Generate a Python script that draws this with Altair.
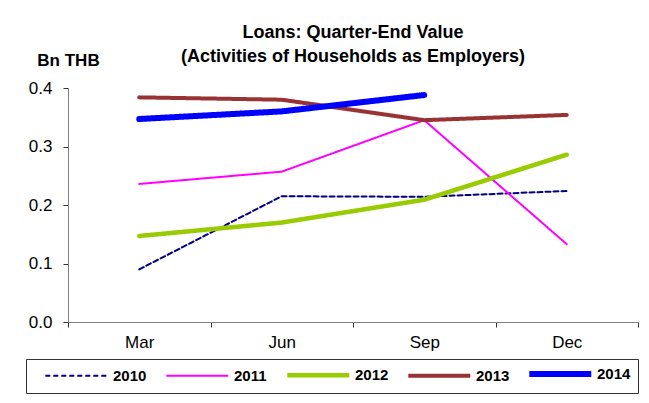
import altair as alt
import pandas as pd

quarters = ["Mar", "Jun", "Sep", "Dec"]
years = ["2010", "2011", "2012", "2013", "2014"]
v2010 = [0.090, 0.215, 0.214, 0.224]
v2011 = [0.236, 0.257, 0.345, 0.133]
v2012 = [0.147, 0.170, 0.209, 0.286]
v2013 = [0.384, 0.380, 0.345, 0.354]
v2014 = [0.347, 0.360, 0.388]

colors = ["#000080", "#FF00FF", "#99CC00", "#993333", "#0000FF"]
widths = [2, 2, 4.5, 4, 6]
dashes = [[5, 3], [1, 0], [1, 0], [1, 0], [1, 0]]

rows = []
for y, vals in zip(years, [v2010, v2011, v2012, v2013, v2014]):
    for q, v in zip(quarters, vals):
        rows.append({"Quarter": q, "Year": y, "Value": v})
df = pd.DataFrame(rows)

FONT = "Liberation Sans"

legend = alt.Legend(
    title=None, orient="none", direction="horizontal", legendX=-42, legendY=271,
    symbolType="M0.86,0H13.26", symbolSize=100, labelFont=FONT, labelFontSize=15,
    labelFontWeight="bold", labelColor="black", labelOffset=64, columnPadding=7,
    padding=7, strokeColor="#333333", fillColor="white", columns=5, gridAlign="all",
    symbolFillColor="transparent",
)

chart = alt.Chart(df).mark_line(strokeCap="round", strokeJoin="round").encode(
    x=alt.X("Quarter:O", sort=quarters, bandPosition=0.5,
            scale=alt.Scale(type="band", paddingInner=0, paddingOuter=0),
            axis=alt.Axis(title=None, labelAngle=0, tickBand="extent", labelFont=FONT,
                          labelFontSize=17, labelColor="black", labelPadding=7,
                          domainColor="#808080", tickColor="#333333", tickSize=5)),
    y=alt.Y("Value:Q", scale=alt.Scale(domain=[0, 0.4]),
            axis=alt.Axis(title="Bn THB", titleAngle=0, titleAlign="center", titleX=0,
                          titleY=-23, titleBaseline="alphabetic", titleFont=FONT,
                          titleFontSize=17, titleFontWeight="bold", titleColor="black",
                          values=[0, 0.1, 0.2, 0.3, 0.4], format=".1f", grid=False,
                          labelFont=FONT, labelFontSize=17, labelColor="black",
                          labelPadding=11, domainColor="#808080", tickColor="#333333",
                          tickSize=5)),
    color=alt.Color("Year:O", scale=alt.Scale(domain=years, range=colors), legend=legend),
    strokeWidth=alt.StrokeWidth("Year:O", scale=alt.Scale(type="ordinal", domain=years, range=widths), legend=legend),
    strokeDash=alt.StrokeDash("Year:O", scale=alt.Scale(domain=years, range=dashes), legend=legend),
).properties(
    width=570, height=234,
    title=alt.TitleParams(["Loans: Quarter-End Value", "(Activities of Households as Employers)"],
                          font=FONT, fontSize=18, fontWeight="bold", color="black",
                          anchor="middle", lineHeight=24, offset=10, dy=25),
    autosize=alt.AutoSizeParams(type="none"),
    padding={"left": 60, "top": 80, "right": 3, "bottom": 73},
).configure_view(stroke=None)

chart.save("out.html", embed_options={"renderer": "svg", "actions": False})
